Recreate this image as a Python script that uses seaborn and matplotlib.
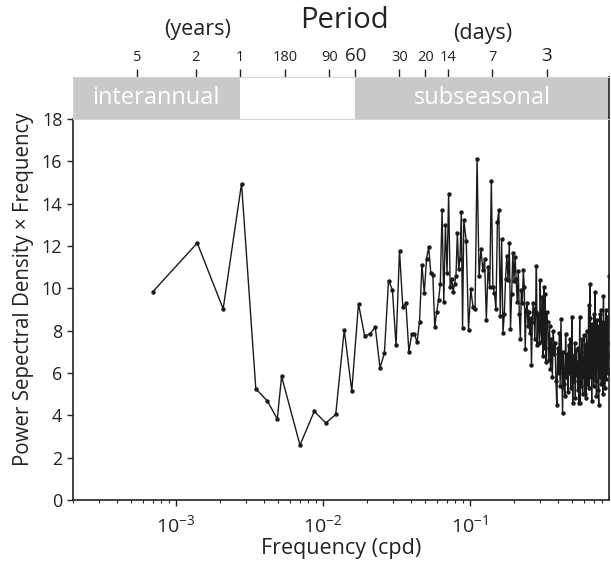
import numpy as np
import pandas as pd
import matplotlib
matplotlib.use('Agg')
import matplotlib.pyplot as plt
from matplotlib.ticker import NullLocator
import seaborn as sns

sns.set_style('ticks')
plt.rcParams['font.family'] = ['Open Sans', 'DejaVu Sans']
plt.rcParams['mathtext.fontset'] = 'custom'
plt.rcParams['mathtext.rm'] = 'Open Sans'
plt.rcParams['mathtext.it'] = 'Open Sans:italic'
plt.rcParams['mathtext.default'] = 'regular'

# ---------------- data ----------------
# long-record (low-resolution) part of the spectrum
lowres_freq_cpd = [0.000703, 0.001406, 0.002109, 0.002812, 0.003515, 0.004218, 0.004921]
lowres_psd = [9.85, 12.14, 9.03, 14.95, 5.26, 4.67, 3.83]

# segment spectrum: frequency bins (bin number x bin width)
bin_width_cpd = 0.001755
bin_number = [
    3, 4, 5, 6, 7, 8, 9, 10, 11, 12, 13, 14, 15, 16, 17, 18, 19, 20, 21, 22,
    23, 24, 25, 26, 27, 28, 29, 30, 31, 32, 33, 34, 35, 36, 37, 38, 39, 40, 41, 42,
    43, 44, 45, 46, 47, 48, 49, 50, 51,
    52, 54, 56, 58, 60, 62, 64, 66, 68, 70, 72, 74, 76, 78, 80, 82, 84, 86, 88, 90,
    92, 94, 96, 98, 100, 102, 104, 106, 108, 110, 112, 114, 116, 118, 120, 122, 124, 126, 128, 130,
    132, 134, 136, 138, 140, 142, 144, 146, 148, 150, 152, 154, 156, 158, 160, 162, 164, 166, 168, 170,
    172, 174, 176, 178, 180, 182, 184, 186, 188, 190,
    193, 196, 199, 202, 205, 208, 211, 214, 217, 220, 223, 226, 229, 232, 235, 238, 241, 244, 247, 250,
    253, 256, 259, 262, 265, 268, 271, 274, 277, 280, 283, 286, 289, 292, 295, 298, 301, 304, 307, 310,
    313, 316, 319, 322, 325, 328, 331, 334, 337, 340, 343, 346, 349, 352, 355, 358, 361, 364, 367, 370,
    373, 376, 379, 382, 385, 388, 391, 394, 397, 400, 403, 406, 409, 412, 415, 418, 421, 424, 427, 430,
    433, 436, 439, 442, 445, 448, 451, 454, 457, 460, 463, 466, 469, 472, 475, 478, 481, 484, 487, 490,
    493, 496, 499, 502, 505,
]
bin_psd = [
    5.84, 2.59, 4.19, 3.64, 4.04, 8.04, 5.15, 9.27, 7.76, 7.85, 8.17, 6.24, 6.94, 10.37, 9.93, 7.30, 11.78, 9.14, 9.30, 6.99,
    7.85, 7.85, 7.46, 8.42, 11.12, 9.77, 11.39, 11.94, 10.73, 10.65, 8.17, 8.90, 9.43, 10.21, 13.70, 9.35, 13.00, 10.73, 14.48, 10.04,
    10.45, 9.85, 10.21, 10.60, 12.60, 10.92, 11.39, 13.59, 8.14,
    13.23, 12.25, 8.04, 9.98, 9.11, 9.03, 16.13, 10.56, 11.86, 10.87, 11.39, 8.51, 10.99, 10.08, 15.08, 10.08, 9.77, 9.03, 13.12, 13.70,
    8.67, 12.33, 7.89, 8.77, 10.45, 11.55, 10.40, 12.13, 8.09, 9.74, 11.66, 10.37, 11.50, 10.45, 9.35, 10.84, 8.80, 7.62, 9.90, 9.30,
    10.87, 10.08, 7.15, 9.00, 9.30, 8.20, 8.87, 7.87, 8.60, 6.36, 8.40, 9.30, 9.03, 7.60, 8.90, 11.06, 7.30, 8.80, 8.25, 7.40,
    10.40, 8.00, 7.50, 9.58, 6.80, 10.05, 7.20, 9.74, 6.50, 8.87,
    8.40, 6.60, 8.20, 6.20, 7.60, 5.80, 8.00, 6.90, 7.40, 5.60, 4.50, 7.20, 6.00, 7.90, 5.40, 8.56, 6.30, 4.10, 7.00, 5.50,
    4.90, 7.85, 5.80, 6.90, 5.10, 7.30, 6.00, 7.60, 5.30, 6.80, 8.64, 4.56, 6.80, 5.60, 7.40, 4.80, 7.10, 5.90, 6.50, 5.20,
    7.20, 4.60, 8.64, 4.56, 7.00, 5.40, 7.60, 5.00, 6.70, 5.80, 7.80, 5.00, 7.30, 4.80, 8.00, 5.50, 7.40, 6.00, 9.19, 5.30,
    8.60, 10.21, 5.80, 7.90, 4.70, 8.30, 6.00, 7.50, 5.40, 8.80, 6.20, 9.82, 5.60, 8.00, 4.90, 8.50, 6.40, 7.60, 5.20, 4.48,
    8.20, 5.80, 8.80, 6.30, 9.00, 5.50, 7.70, 6.10, 8.40, 5.00, 9.66, 6.00, 8.30, 5.30, 7.90, 6.60, 9.00, 5.70, 8.40, 6.20,
    8.64, 6.00, 7.40, 6.80, 10.60,
]

# top (period) axis
period_days = [1825, 730, 365, 180, 90, 60, 30, 20, 14, 7, 3]
period_labels = ['5', '2', '1', '180', '90', '60', '30', '20', '14', '7', '3']
interannual_limit_days = 365
subseasonal_limit_days = 60
y_ticks = [0, 2, 4, 6, 8, 10, 12, 14, 16, 18]

# ---------------- assemble ----------------
freq = np.concatenate([np.array(lowres_freq_cpd), np.array(bin_number) * bin_width_cpd])
psd = np.concatenate([np.array(lowres_psd), np.array(bin_psd)])
df = pd.DataFrame({'freq': freq, 'psd': psd})

W, H = 611, 561
fig = plt.figure(figsize=(W / 100, H / 100), dpi=100)
L, R, B, T, TB = 72.7, 609.0, 500.0, 119.0, 77.0
ax = fig.add_axes([L / W, 1 - B / H, (R - L) / W, (B - T) / H])
axb = fig.add_axes([L / W, 1 - T / H, (R - L) / W, (T - TB) / H])

line_color = '#1a1a1a'
sns.lineplot(data=df, x='freq', y='psd', ax=ax, color=line_color, linewidth=1.0,
             marker='o', markersize=3.2, markeredgewidth=0, sort=False)

xmin, xmax = 2.0e-4, 0.886
ax.set_xscale('log')
ax.set_xlim(xmin, xmax)
ax.set_ylim(0, 18)
ax.set_yticks(y_ticks)
ax.set_yticklabels([str(v) for v in y_ticks], fontsize=13, color='#222222')
ax.tick_params(axis='x', which='major', length=4.5, width=1.0, labelsize=14, pad=6, colors='#222222')
ax.tick_params(axis='x', which='minor', length=2.5, width=0.8)
ax.tick_params(axis='y', which='major', length=4.5, width=1.0, pad=3)
for side in ['left', 'bottom', 'right']:
    ax.spines[side].set_color('#222222')
    ax.spines[side].set_linewidth(1.2)
ax.spines['top'].set_visible(False)
ax.set_xlabel('Frequency (cpd)', fontsize=15.5, labelpad=1, color='#222222')
ax.set_ylabel('')

fig.text(24 / W, 1 - 289 / H, 'Power Sepectral Density \u00d7 Frequency', rotation=90,
         ha='center', va='center', fontsize=14.8, color='#222222')

# ---------------- period band ----------------
band_gray = '#c8c9cb'
axb.set_xscale('log')
axb.set_xlim(xmin, xmax)
axb.set_ylim(0, 1)
axb.axvspan(xmin, 1 / interannual_limit_days, color=band_gray, lw=0)
axb.axvspan(1 / subseasonal_limit_days, xmax, color=band_gray, lw=0)
axb.set_yticks([])
axb.xaxis.set_minor_locator(NullLocator())
axb.set_xticks([1 / d for d in period_days])
axb.set_xticklabels(period_labels)
axb.tick_params(axis='x', which='major', bottom=False, top=True, labelbottom=False, labeltop=True,
                direction='out', length=6, width=1.0, pad=3, labelsize=10.5, colors='#222222')
for lab in axb.get_xticklabels():
    if lab.get_text() in ('60', '3'):
        lab.set_fontsize(13.5)
for side in ['top', 'bottom', 'left']:
    axb.spines[side].set_color('#d4d4d4')
    axb.spines[side].set_linewidth(0.8)
axb.spines['right'].set_color('#222222')
axb.spines['right'].set_linewidth(1.2)

axb.text(np.sqrt(xmin / interannual_limit_days), 0.5, 'interannual', color='white',
         fontsize=17, ha='center', va='center')
axb.text(np.sqrt(xmax / subseasonal_limit_days), 0.5, 'subseasonal', color='white',
         fontsize=17, ha='center', va='center')

fig.text(344 / W, 1 - 21 / H, 'Period', ha='center', va='center', fontsize=21, color='#222222')
fig.text(197.5 / W, 1 - 29 / H, '(years)', ha='center', va='center', fontsize=15.5, color='#222222')
fig.text(482.5 / W, 1 - 33 / H, '(days)', ha='center', va='center', fontsize=15.5, color='#222222')

fig.savefig('out.png', dpi=100)
